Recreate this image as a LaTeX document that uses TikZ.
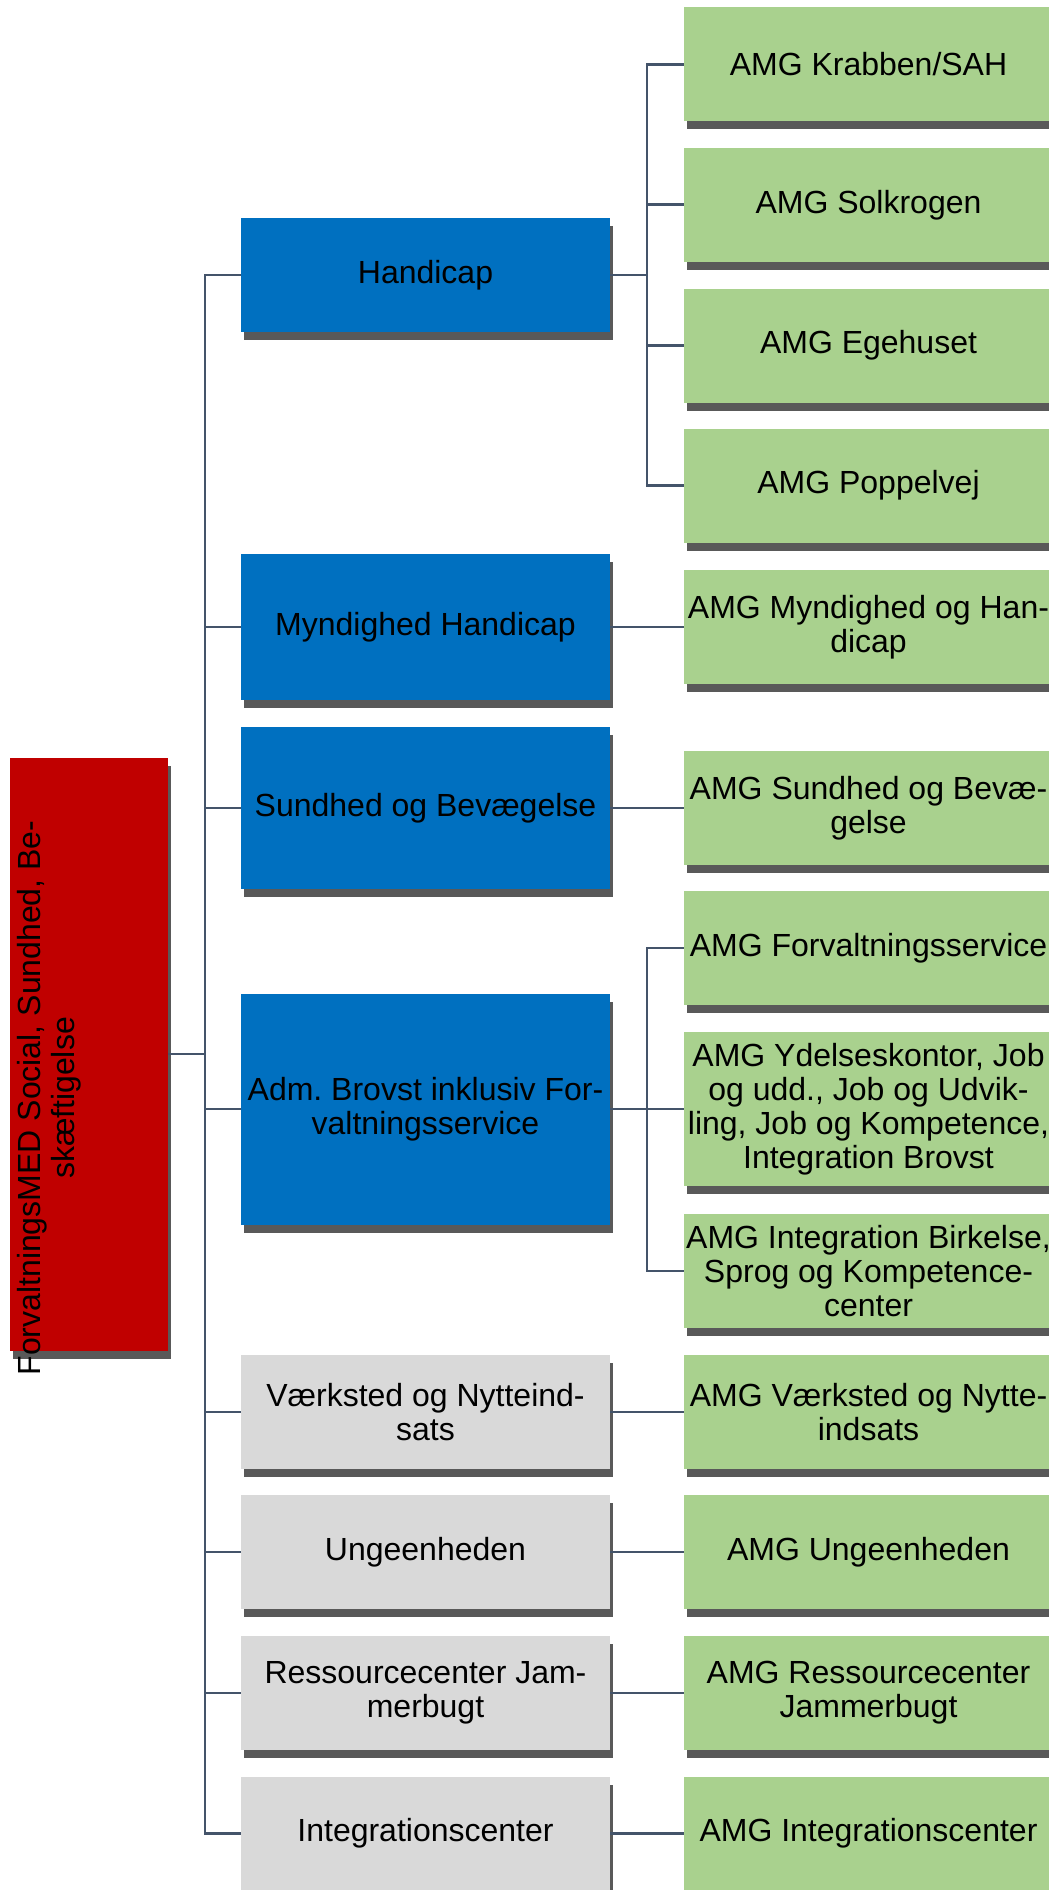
\documentclass[tikz,border=0pt]{standalone}
\usepackage{fontspec}
\setmainfont{Liberation Sans}
\usetikzlibrary{positioning,calc,shadows}

\definecolor{medred}{HTML}{C00000}
\definecolor{leadblue}{HTML}{0070C0}
\definecolor{amggreen}{HTML}{A9D18E}
\definecolor{unitgray}{HTML}{D9D9D9}
\definecolor{linecol}{HTML}{44546A}
\definecolor{shadowcol}{HTML}{595959}

\begin{document}
\begin{tikzpicture}[x=0.5pt, y=-0.5pt,
  boxshadow/.style={general shadow={fill=shadowcol, shadow xshift=1.5pt, shadow yshift=-4pt}},
  orgbox/.style={rectangle, boxshadow, align=center, inner sep=1pt, outer sep=0pt,
    minimum width=184.5pt, minimum height=57pt, font=\fontsize{16}{17}\selectfont},
  amg/.style={orgbox, fill=amggreen},
  lead/.style={orgbox, fill=leadblue},
  unit/.style={orgbox, fill=unitgray},
  conn/.style={draw=linecol, line width=1.4pt}]

  \useasboundingbox (0,0) rectangle (1049,1890);

  % AMG
  \node[amg] (krabben) at (868.5,64.3) {AMG Krabben/SAH};
  \node[amg, below=13.25pt of krabben] (solkrogen) {AMG Solkrogen};
  \node[amg, below=13.4pt of solkrogen] (egehuset) {AMG Egehuset};
  \node[amg, below=13pt of egehuset] (poppelvej) {AMG Poppelvej};
  \node[amg, below=13.7pt of poppelvej] (amgmynd) {AMG Myndighed og Han-\\dicap};
  \node[amg, below=33.5pt of amgmynd] (amgsund) {AMG Sundhed og Bevæ-\\gelse};
  \node[amg, below=13pt of amgsund] (amgforv) {AMG Forvaltningsservice};
  \node[amg, below=13.5pt of amgforv, minimum height=77pt] (amgydelse) {AMG Ydelseskontor, Job\\og udd., Job og Udvik-\\ling, Job og Kompetence,\\Integration Brovst};
  \node[amg, below=14pt of amgydelse] (amgbirk) {AMG Integration Birkelse,\\Sprog og Kompetence-\\center};
  \node[amg, below=13.5pt of amgbirk] (amgvaerk) {AMG Værksted og Nytte-\\indsats};
  \node[amg, below=13pt of amgvaerk] (amgunge) {AMG Ungeenheden};
  \node[amg, below=13.5pt of amgunge] (amgress) {AMG Ressourcecenter\\Jammerbugt};
  \node[amg, below=13.25pt of amgress] (amgint) {AMG Integrationscenter};

  % ledere
  \coordinate (hmid) at ($(krabben.west)!0.5!(poppelvej.west)$);
  \node[lead, left=37pt of hmid] (handicap) {Handicap};
  \node[lead, left=37pt of amgmynd, minimum height=73pt] (mynd) {Myndighed Handicap};
  \node[lead, left=37pt of amgsund, minimum height=81pt] (sund) {Sundhed og Bevægelse};
  \node[lead, left=37pt of amgydelse, minimum height=115.5pt] (adm) {Adm.\ Brovst inklusiv For-\\valtningsservice};
  \node[unit, left=37pt of amgvaerk] (vaerk) {Værksted og Nytteind-\\sats};
  \node[unit, left=37pt of amgunge] (unge) {Ungeenheden};
  \node[unit, left=37pt of amgress] (ress) {Ressourcecenter Jam-\\merbugt};
  \node[unit, left=37pt of amgint] (intc) {Integrationscenter};

  % MED
  \node[rectangle, fill=medred, boxshadow, minimum width=79pt, minimum height=296.5pt, inner sep=0pt, outer sep=0pt] (forv) at (89,1054) {};
  \node[rotate=90, align=center, inner sep=0pt, font=\fontsize{16}{17}\selectfont] (forvtext) at ([xshift=-20pt, yshift=-22pt]forv.center) {ForvaltningsMED Social, Sundhed, Be-\\skæftigelse};

  \foreach \n in {handicap,mynd,sund,adm,vaerk,unge,ress,intc}
    \draw[conn] (forv.east) -- ++(18.5pt,0) |- (\n.west);

  \foreach \n in {krabben,solkrogen,egehuset,poppelvej}
    \draw[conn] (handicap.east) -- ++(18.5pt,0) |- (\n.west);

  \foreach \n in {amgforv,amgydelse,amgbirk}
    \draw[conn] (adm.east) -- ++(18.5pt,0) |- (\n.west);

  \draw[conn] (mynd.east) -- (amgmynd.west);
  \draw[conn] (sund.east) -- (amgsund.west);
  \draw[conn] (vaerk.east) -- (amgvaerk.west);
  \draw[conn] (unge.east) -- (amgunge.west);
  \draw[conn] (ress.east) -- (amgress.west);
  \draw[conn] (intc.east) -- (amgint.west);

\end{tikzpicture}
\end{document}
